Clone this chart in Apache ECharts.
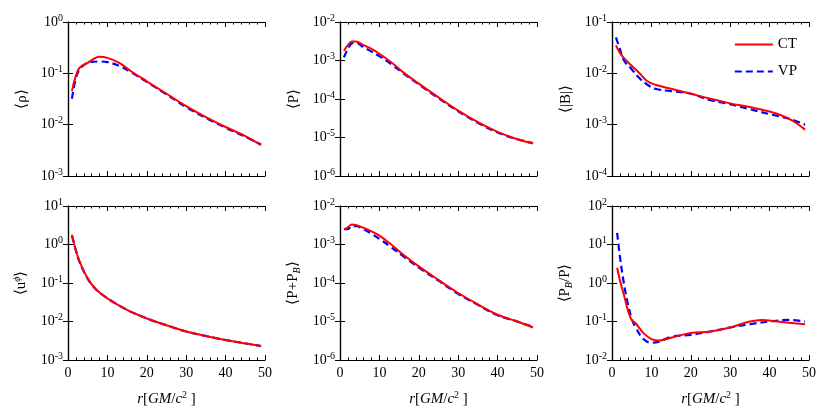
<!DOCTYPE html>
<html><head><meta charset="utf-8">
<script src="https://cdn.jsdelivr.net/npm/echarts@6/dist/echarts.min.js"></script>
<style>body{margin:0;background:#fff}#c{width:830px;height:415px}</style>
</head><body><div id="c"></div>
<script>
// radius samples and profiles
var rhoR = [1, 2, 3, 5, 8, 10, 13, 16, 20, 25, 30, 35, 40, 45, 49];
var rhoCT = [0.045, 0.09, 0.13, 0.16, 0.21, 0.2, 0.16, 0.11, 0.07, 0.04, 0.023, 0.014, 0.009, 0.006, 0.004];
var rhoVP = [0.032, 0.08, 0.12, 0.16, 0.17, 0.165, 0.14, 0.105, 0.068, 0.039, 0.022, 0.0135, 0.0087, 0.0058, 0.0041];

var pR = [1, 2, 3, 4, 6, 8, 10, 13, 16, 20, 25, 30, 35, 40, 45, 49];
var pCT = [1.8e-3, 2.5e-3, 3.1e-3, 3.1e-3, 2.5e-3, 2e-3, 1.5e-3, 9e-4, 5e-4, 2.5e-4, 1.1e-4, 5e-5, 2.5e-5, 1.4e-5, 9e-6, 7e-6];
var pVP = [1.2e-3, 2e-3, 2.8e-3, 2.9e-3, 2.2e-3, 1.7e-3, 1.3e-3, 8e-4, 4.7e-4, 2.4e-4, 1.05e-4, 4.8e-5, 2.4e-5, 1.35e-5, 9e-6, 7.2e-6];

var bR = [1, 2, 3, 5, 7, 9, 11, 15, 20, 25, 30, 35, 40, 45, 49];
var bCT = [3.5e-2, 2.5e-2, 2e-2, 1.4e-2, 1e-2, 7e-3, 6e-3, 5e-3, 4e-3, 3.2e-3, 2.6e-3, 2.2e-3, 1.8e-3, 1.3e-3, 8e-4];
var bVP = [5e-2, 3e-2, 1.8e-2, 1.2e-2, 8e-3, 6e-3, 5e-3, 4.5e-3, 4e-3, 3e-3, 2.5e-3, 2e-3, 1.6e-3, 1.3e-3, 1e-3];

var uR = [1, 2, 3, 5, 7, 10, 15, 20, 25, 30, 35, 40, 45, 49];
var uCT = [1.8, 0.7, 0.35, 0.13, 0.07, 0.04, 0.02, 0.012, 0.008, 0.0055, 0.0042, 0.0033, 0.0027, 0.0023];
var uVP = [1.7, 0.7, 0.34, 0.13, 0.07, 0.04, 0.02, 0.012, 0.008, 0.0055, 0.0042, 0.0033, 0.0027, 0.0023];

var ptR = [1, 2, 3, 4, 6, 8, 10, 13, 16, 20, 25, 30, 35, 40, 45, 49];
var ptCT = [2.5e-3, 2.8e-3, 3.3e-3, 3.2e-3, 2.7e-3, 2.2e-3, 1.7e-3, 1e-3, 5.5e-4, 2.7e-4, 1.2e-4, 5.5e-5, 2.8e-5, 1.5e-5, 1e-5, 7e-6];
var ptVP = [2.5e-3, 2.5e-3, 3e-3, 3e-3, 2.5e-3, 1.9e-3, 1.4e-3, 8.5e-4, 5e-4, 2.5e-4, 1.15e-4, 5.2e-5, 2.7e-5, 1.45e-5, 1e-5, 7.2e-6];

var bpCTR = [1.3, 2, 3, 4, 5, 6, 8, 10, 12, 15, 20, 25, 30, 35, 38, 42, 49];
var bpCT = [2.5, 1.2, 0.5, 0.2, 0.11, 0.09, 0.05, 0.035, 0.032, 0.038, 0.05, 0.055, 0.07, 0.1, 0.11, 0.1, 0.085];
var bpVPR = [1.3, 2, 3, 4, 5, 6, 8, 10, 12, 15, 20, 25, 30, 35, 40, 45, 49];
var bpVP = [20, 5, 1, 0.3, 0.12, 0.07, 0.035, 0.028, 0.03, 0.04, 0.045, 0.055, 0.07, 0.085, 0.1, 0.11, 0.1];

var panels = [
  {name: '⟨ρ⟩', min: 1e-3, max: 1, r: [rhoR, rhoR], ct: rhoCT, vp: rhoVP},
  {name: '⟨P⟩', min: 1e-6, max: 1e-2, r: [pR, pR], ct: pCT, vp: pVP},
  {name: '⟨|B|⟩', min: 1e-4, max: 1e-1, r: [bR, bR], ct: bCT, vp: bVP},
  {name: '⟨u{s|ϕ}⟩', min: 1e-3, max: 10, r: [uR, uR], ct: uCT, vp: uVP},
  {name: '⟨P+P{b|B}⟩', min: 1e-6, max: 1e-2, r: [ptR, ptR], ct: ptCT, vp: ptVP},
  {name: '⟨P{b|B}/P⟩', min: 1e-2, max: 100, r: [bpCTR, bpVPR], ct: bpCT, vp: bpVP}
];

var font = 'Liberation Serif';
var lefts = [68, 340, 612], tops = [22, 206], W = 197, H = 154;
var grids = [], xAxes = [], yAxes = [], series = [];
function zip(a, b) { return a.map(function (v, i) { return [v, b[i]]; }); }
function logLabel(v) {
  return '10{s|' + Math.round(Math.log10(v)) + '}';
}
panels.forEach(function (p, i) {
  var row = Math.floor(i / 3), col = i % 3;
  grids.push({left: lefts[col], top: tops[row], width: W, height: H});
  var axLine = {show: true, lineStyle: {color: '#000', width: 1.2}};
  var bottom = row === 1;
  var xt = {inside: true, length: 5, lineStyle: {color: '#000'}};
  var xm = {show: true, splitNumber: 5, length: 2.5, lineStyle: {color: '#000'}};
  xAxes.push({gridIndex: i, type: 'value', min: 0, max: 50, interval: 10, axisLine: axLine,
    axisTick: xt, minorTick: xm, splitLine: {show: false},
    axisLabel: {show: bottom, color: '#000', fontFamily: font, fontSize: 14, margin: 6},
    name: bottom ? '{i|r}[{i|GM}/{i|c}{s|2} ]' : '', nameLocation: 'middle', nameGap: 30,
    nameTextStyle: {color: '#000', fontFamily: font, fontSize: 15,
      rich: {i: {fontStyle: 'italic', fontFamily: font, fontSize: 15}, s: {fontSize: 10, fontFamily: font, padding: [0, 0, 8, 0]}}}});
  xAxes.push({gridIndex: i, type: 'value', position: 'top', min: 0, max: 50, interval: 10, axisLine: axLine,
    axisTick: xt, minorTick: xm, splitLine: {show: false}, axisLabel: {show: false}});
  var yl = {type: 'log', gridIndex: i, min: p.min, max: p.max, logBase: 10, axisLine: axLine,
    axisTick: {inside: true, length: 5, lineStyle: {color: '#000'}},
    splitLine: {show: false}};
  yAxes.push(Object.assign({}, yl, {
    axisLabel: {color: '#000', fontFamily: font, fontSize: 14, formatter: logLabel, margin: 5,
      rich: {s: {fontSize: 10, fontFamily: font, padding: [0, 0, 8, 0]}}},
    name: p.name, nameLocation: 'middle', nameGap: 38, nameRotate: 90,
    nameTextStyle: {color: '#000', fontFamily: font, fontSize: 15,
      rich: {s: {fontSize: 10, fontFamily: font, fontStyle: 'italic', padding: [0, 0, 8, 0]},
             b: {fontSize: 10, fontFamily: font, fontStyle: 'italic', padding: [8, 0, 0, 0]}}}}));
  yAxes.push(Object.assign({}, yl, {position: 'right', axisLabel: {show: false}}));
  series.push({name: 'CT', type: 'line', xAxisIndex: 2 * i, yAxisIndex: 2 * i, smooth: 0.4, symbol: 'none',
    data: zip(p.r[0], p.ct), lineStyle: {color: '#ff0000', width: 2}, itemStyle: {color: '#ff0000'}, z: 3});
  series.push({name: 'VP', type: 'line', xAxisIndex: 2 * i, yAxisIndex: 2 * i, smooth: 0.4, symbol: 'none',
    data: zip(p.r[1], p.vp), lineStyle: {color: '#0000ff', width: 2.2, type: [7, 4]}, itemStyle: {color: '#0000ff'}, z: 2});
});

var chart = echarts.init(document.getElementById('c'));
chart.setOption({
  animation: false,
  backgroundColor: '#fff',
  grid: grids, xAxis: xAxes, yAxis: yAxes, series: series,
  legend: {data: ['CT', 'VP'], orient: 'vertical', right: 28, top: 32, itemGap: 12, itemWidth: 38, itemHeight: 10,
    itemStyle: {opacity: 0},
    textStyle: {fontFamily: font, fontSize: 15, color: '#000'}}
});
</script></body></html>
